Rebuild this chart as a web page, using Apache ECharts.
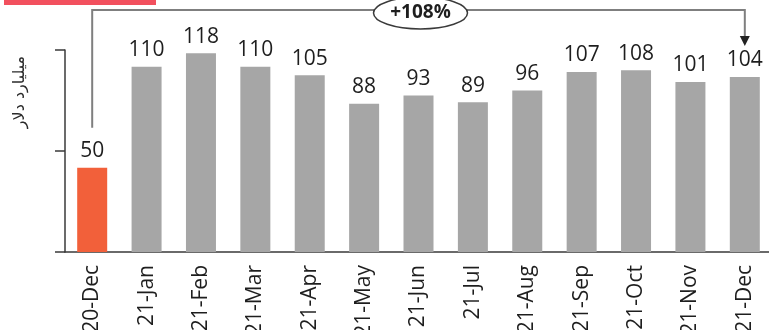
<!DOCTYPE html>
<html>
<head>
<meta charset="utf-8">
<script src="https://cdn.jsdelivr.net/npm/echarts@6/dist/echarts.min.js"></script>
<style>
  html, body { margin: 0; padding: 0; background: #fff; }
  #chart { width: 769px; height: 330px; }
</style>
</head>
<body>
<div id="chart"></div>
<script>
// Monthly values in billions of dollars
const categories = ['20-Dec', '21-Jan', '21-Feb', '21-Mar', '21-Apr', '21-May', '21-Jun',
                    '21-Jul', '21-Aug', '21-Sep', '21-Oct', '21-Nov', '21-Dec'];
const values = [50, 110, 118, 110, 105, 88, 93, 89, 96, 107, 108, 101, 104];
const yAxisTitle = 'میلیارد دلار';

const baseColor = '#f2603a';
const barColor = '#a6a6a6';

const chart = echarts.init(document.getElementById('chart'), null, { renderer: 'canvas' });

const staticGraphics = [
  { type: 'rect', shape: { x: 4, y: 0, width: 152, height: 5 },
    style: { fill: '#f2505e' } },
  { type: 'text', x: 20, y: 92, rotation: Math.PI / 2,
    style: { text: yAxisTitle, font: '16px "DejaVu Sans"', fill: '#2a2a2a',
             align: 'center', verticalAlign: 'middle' } }
];

const option = {
  animation: false,
  grid: { left: 65, top: 50, width: 707, height: 202, containLabel: false, outerBoundsMode: 'none' },
  xAxis: {
    type: 'category',
    data: categories,
    axisLine: { lineStyle: { color: '#3a3a3a', width: 1.5 } },
    axisTick: { show: false },
    axisLabel: {
      rotate: 90, margin: 13, color: '#1e1e1e',
      fontFamily: 'Open Sans', fontSize: 21
    }
  },
  yAxis: {
    type: 'value', min: 0, max: 120, interval: 60,
    axisLine: { show: true, lineStyle: { color: '#3a3a3a', width: 1.5 } },
    axisTick: { show: true, inside: false, length: 10, lineStyle: { color: '#3a3a3a', width: 1.5 } },
    axisLabel: { show: false },
    splitLine: { show: false }
  },
  series: [{
    type: 'bar',
    barWidth: 30,
    data: values.map((v, i) => ({
      value: v,
      itemStyle: { color: i === 0 ? baseColor : barColor }
    })),
    label: {
      show: true, position: 'top', distance: 6,
      color: '#1e1e1e', fontFamily: 'Open Sans', fontSize: 21
    }
  }],
  graphic: staticGraphics
};
chart.setOption(option);

// Growth bracket from the first month to the last, drawn from the chart's own scale
const first = values[0];
const last = values[values.length - 1];
const growth = Math.round((last / first - 1) * 100);
const p0 = chart.convertToPixel({ seriesIndex: 0 }, [0, first]);
const p1 = chart.convertToPixel({ seriesIndex: 0 }, [values.length - 1, last]);
const topY = 10;
const startY = p0[1] - 40;
const arrowTip = p1[1] - 31;
const midX = (p0[0] + p1[0]) / 2 + 2;

chart.setOption({
  graphic: staticGraphics.concat([
    { type: 'polyline', z: 10,
      shape: { points: [[p0[0], startY], [p0[0], topY], [p1[0], topY], [p1[0], arrowTip - 9]] },
      style: { stroke: '#7f7f7f', lineWidth: 2, fill: null } },
    { type: 'polygon', z: 10,
      shape: { points: [[p1[0] - 5, arrowTip - 10], [p1[0] + 5, arrowTip - 10], [p1[0], arrowTip]] },
      style: { fill: '#222' } },
    { type: 'ellipse', z: 11,
      shape: { cx: midX, cy: 13, rx: 47, ry: 16 },
      style: { fill: '#fff', stroke: '#3a3a3a', lineWidth: 1.5 } },
    { type: 'text', z: 12, x: midX, y: 13,
      style: { text: '+' + growth + '%', font: 'bold 19px "Open Sans"', fill: '#1e1e1e',
               align: 'center', verticalAlign: 'middle' } }
  ])
});
</script>
</body>
</html>
